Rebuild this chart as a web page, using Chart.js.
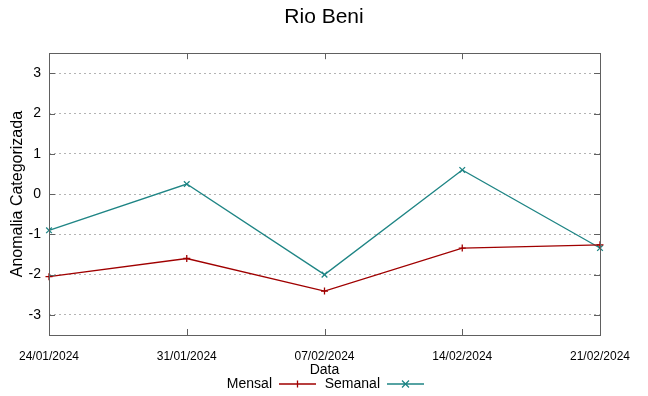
<!DOCTYPE html>
<html>
<head>
<meta charset="utf-8">
<script src="https://cdn.jsdelivr.net/npm/chart.js@4/dist/chart.umd.min.js"></script>
<style>
  html, body { margin: 0; padding: 0; background: #fff; }
  #wrap { width: 648px; height: 396px; }
</style>
</head>
<body>
<div id="wrap"><canvas id="anomChart" width="648" height="396"></canvas></div>
<script>
const dates = ['24/01/2024', '31/01/2024', '07/02/2024', '14/02/2024', '21/02/2024'];
const mensal = [-2.05, -1.60, -2.41, -1.34, -1.26];
const semanal = [-0.90, 0.25, -2.00, 0.60, -1.34];
const yTicks = [-3, -2, -1, 0, 1, 2, 3];

const frameColor = '#606060';

// gnuplot style frame with inward ticks
const framePlugin = {
  id: 'frame',
  afterDatasetsDraw(chart) {
    const { ctx, chartArea: a, scales } = chart;
    ctx.save();
    ctx.strokeStyle = frameColor;
    ctx.lineWidth = 1;
    ctx.beginPath();
    yTicks.forEach(v => {
      const y = Math.round(scales.y.getPixelForValue(v)) + 0.5;
      ctx.moveTo(a.left, y); ctx.lineTo(a.left + 6, y);
      ctx.moveTo(a.right, y); ctx.lineTo(a.right - 6, y);
    });
    dates.forEach((d, i) => {
      const x = Math.round(scales.x.getPixelForValue(i)) + 0.5;
      ctx.moveTo(x, a.bottom); ctx.lineTo(x, a.bottom - 6);
      ctx.moveTo(x, a.top); ctx.lineTo(x, a.top + 6);
    });
    ctx.stroke();
    ctx.strokeRect(Math.round(a.left) + 0.5, Math.round(a.top) + 0.5,
      Math.round(a.right - a.left), Math.round(a.bottom - a.top));
    ctx.restore();
  }
};

// key below the axis: text first, then line sample with marker
const keyPlugin = {
  id: 'key',
  afterDraw(chart) {
    const ctx = chart.ctx;
    const y = 384;
    let textRight = 272;
    ctx.save();
    ctx.font = '14px "Liberation Sans", Arial, sans-serif';
    ctx.textAlign = 'right';
    ctx.textBaseline = 'middle';
    chart.data.datasets.forEach(ds => {
      ctx.fillStyle = '#000';
      ctx.fillText(ds.label, textRight, y);
      const x0 = textRight + 7, x1 = x0 + 37, xm = (x0 + x1) / 2;
      ctx.strokeStyle = ds.borderColor;
      ctx.lineWidth = 1.3;
      ctx.beginPath();
      ctx.moveTo(x0, y); ctx.lineTo(x1, y);
      const r = 3.5;
      if (ds.pointStyle === 'cross') {
        ctx.moveTo(xm, y - r); ctx.lineTo(xm, y + r);
      } else {
        ctx.moveTo(xm - r, y - r); ctx.lineTo(xm + r, y + r);
        ctx.moveTo(xm - r, y + r); ctx.lineTo(xm + r, y - r);
      }
      ctx.stroke();
      textRight += 108;
    });
    ctx.restore();
  }
};

new Chart(document.getElementById('anomChart'), {
  type: 'line',
  data: {
    labels: dates,
    datasets: [
      {
        label: 'Mensal',
        data: mensal,
        borderColor: '#a00000',
        backgroundColor: '#a00000',
        borderWidth: 1.3,
        pointStyle: 'cross',
        pointRadius: 3.5,
        pointBorderWidth: 1.3,
        tension: 0
      },
      {
        label: 'Semanal',
        data: semanal,
        borderColor: '#1f8585',
        backgroundColor: '#1f8585',
        borderWidth: 1.3,
        pointStyle: 'crossRot',
        pointRadius: 4,
        pointBorderWidth: 1.3,
        tension: 0
      }
    ]
  },
  options: {
    responsive: false,
    animation: false,
    layout: { padding: 0 },
    plugins: {
      legend: { display: false },
      tooltip: { enabled: false },
      title: {
        display: true,
        text: 'Rio Beni',
        color: '#000',
        font: { family: '"Liberation Sans", Arial, sans-serif', size: 21, weight: 'normal' },
        padding: { top: 5, bottom: 23 }
      }
    },
    scales: {
      x: {
        type: 'category',
        offset: false,
        grid: { display: false, drawTicks: false },
        border: { display: false },
        ticks: {
          color: '#000',
          autoSkip: false,
          maxRotation: 0,
          padding: 14,
          font: { family: '"Liberation Sans", Arial, sans-serif', size: 12 }
        },
        title: {
          display: true,
          text: 'Data',
          color: '#000',
          font: { family: '"Liberation Sans", Arial, sans-serif', size: 14 },
          padding: { top: 0, bottom: 17 }
        },
        afterFit(s) { s.height = 61; }
      },
      y: {
        min: -3.5,
        max: 3.5,
        afterBuildTicks(s) { s.ticks = yTicks.map(v => ({ value: v })); },
        grid: {
          drawTicks: false,
          color: '#b4b4b4',
          lineWidth: 1
        },
        border: { display: false, dash: [2, 3] },
        ticks: {
          color: '#000',
          padding: 8,
          font: { family: '"Liberation Sans", Arial, sans-serif', size: 14 }
        },
        title: {
          display: true,
          text: 'Anomalia Categorizada',
          color: '#000',
          font: { family: '"Liberation Sans", Arial, sans-serif', size: 16 },
          padding: { top: 8, bottom: 0 }
        },
        afterFit(s) { s.width = 49; }
      },
      yRight: {
        position: 'right',
        display: true,
        min: -3.5,
        max: 3.5,
        grid: { display: false, drawTicks: false },
        border: { display: false },
        ticks: { display: false },
        afterFit(s) { s.width = 48; }
      }
    }
  },
  plugins: [framePlugin, keyPlugin]
});
</script>
</body>
</html>
